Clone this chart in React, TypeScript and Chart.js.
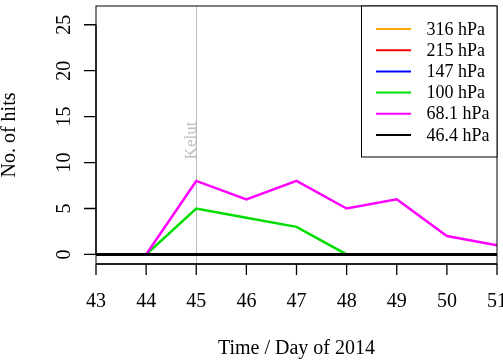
import React, { useEffect, useRef } from "react";
import { Chart, registerables } from "chart.js";

Chart.register(...registerables);

const days = [43, 44, 45, 46, 47, 48, 49, 50, 51];
const hits316 = [0, 0, 0, 0, 0, 0, 0, 0, 0];
const hits215 = [0, 0, 0, 0, 0, 0, 0, 0, 0];
const hits147 = [0, 0, 0, 0, 0, 0, 0, 0, 0];
const hits100 = [0, 0, 5, 4, 3, 0, 0, 0, 0];
const hits681 = [0, 0, 8, 6, 8, 5, 6, 2, 1];
const hits464 = [0, 0, 0, 0, 0, 0, 0, 0, 0];
const seriesLabels = ["316 hPa", "215 hPa", "147 hPa", "100 hPa", "68.1 hPa", "46.4 hPa"];
const seriesColors = ["#FFA500", "#FF0000", "#0000FF", "#00DD00", "#FF00FF", "#000000"];
const xTicks = [43, 44, 45, 46, 47, 48, 49, 50, 51];
const yTicks = [0, 5, 10, 15, 20, 25];
const eventDay = 45;
const eventLabel = "Kelut";
const eventLabelY = 12.4;
const xTitle = "Time / Day of 2014";
const yTitle = "No. of hits";

const FONT = "'Liberation Serif', 'Times New Roman', serif";

const rPlugin = {
  id: "rstyle",
  beforeDatasetsDraw(chart: any) {
    const ctx = chart.ctx;
    const xs = chart.scales.x;
    const ys = chart.scales.y;
    const a = chart.chartArea;
    const px = Math.round(xs.getPixelForValue(eventDay)) + 0.5;
    ctx.save();
    ctx.strokeStyle = "#BEBEBE";
    ctx.lineWidth = 1;
    ctx.beginPath();
    ctx.moveTo(px, a.top);
    ctx.lineTo(px, a.bottom);
    ctx.stroke();
    ctx.translate(px - 1, ys.getPixelForValue(eventLabelY));
    ctx.rotate(-Math.PI / 2);
    ctx.fillStyle = "#BEBEBE";
    ctx.font = `17px ${FONT}`;
    ctx.textAlign = "center";
    ctx.textBaseline = "alphabetic";
    ctx.fillText(eventLabel, 0, 0);
    ctx.restore();
  },
  afterDraw(chart: any) {
    const ctx = chart.ctx;
    const xs = chart.scales.x;
    const ys = chart.scales.y;
    const a = chart.chartArea;
    ctx.save();
    // box
    ctx.strokeStyle = "#000";
    ctx.lineWidth = 1;
    ctx.strokeRect(a.left, a.top, a.right - a.left, a.bottom - a.top);
    // x axis
    ctx.lineWidth = 1.3;
    ctx.beginPath();
    const x0 = xs.getPixelForValue(xTicks[0]);
    const x1 = xs.getPixelForValue(xTicks[xTicks.length - 1]);
    ctx.moveTo(x0, a.bottom);
    ctx.lineTo(x1, a.bottom);
    for (const t of xTicks) {
      const p = xs.getPixelForValue(t);
      ctx.moveTo(p, a.bottom);
      ctx.lineTo(p, a.bottom + 11);
    }
    ctx.stroke();
    ctx.fillStyle = "#000";
    ctx.font = `20px ${FONT}`;
    ctx.textAlign = "center";
    ctx.textBaseline = "alphabetic";
    for (const t of xTicks) {
      ctx.fillText(String(t), xs.getPixelForValue(t), 307);
    }
    ctx.fillText(xTitle, (a.left + a.right) / 2, 354);
    // y axis
    ctx.beginPath();
    ctx.moveTo(a.left, ys.getPixelForValue(yTicks[0]));
    ctx.lineTo(a.left, ys.getPixelForValue(yTicks[yTicks.length - 1]));
    for (const t of yTicks) {
      const p = ys.getPixelForValue(t);
      ctx.moveTo(a.left, p);
      ctx.lineTo(a.left - 12, p);
    }
    ctx.stroke();
    for (const t of yTicks) {
      ctx.save();
      ctx.translate(70, ys.getPixelForValue(t));
      ctx.rotate(-Math.PI / 2);
      ctx.fillText(String(t), 0, 0);
      ctx.restore();
    }
    ctx.save();
    ctx.translate(15, (a.top + a.bottom) / 2);
    ctx.rotate(-Math.PI / 2);
    ctx.fillText(yTitle, 0, 0);
    ctx.restore();
    // legend
    const lx = 361, ly = a.top, lw = a.right - 361, lh = 151;
    ctx.fillStyle = "#fff";
    ctx.fillRect(lx, ly, lw, lh);
    ctx.strokeStyle = "#000";
    ctx.lineWidth = 1;
    ctx.strokeRect(lx + 0.5, ly, lw - 0.5, lh);
    ctx.font = `18px ${FONT}`;
    ctx.textAlign = "left";
    ctx.textBaseline = "alphabetic";
    seriesLabels.forEach((lab, i) => {
      const yy = 29 + i * 21.2;
      ctx.strokeStyle = seriesColors[i];
      ctx.lineWidth = 2;
      ctx.beginPath();
      ctx.moveTo(376, yy);
      ctx.lineTo(411, yy);
      ctx.stroke();
      ctx.fillStyle = "#000";
      ctx.fillText(lab, 426.5, yy + 5.5);
    });
    ctx.restore();
  },
};

export default function App() {
  const ref = useRef<HTMLCanvasElement>(null);
  useEffect(() => {
    if (!ref.current) return;
    const series = [hits316, hits215, hits147, hits100, hits681, hits464];
    const chart = new Chart(ref.current, {
      type: "line",
      data: {
        datasets: series.map((s, i) => ({
          label: seriesLabels[i],
          data: days.map((d, j) => ({ x: d, y: s[j] })),
          borderColor: seriesColors[i],
          backgroundColor: seriesColors[i],
          borderWidth: i === 5 ? 3 : 2.5,
          pointRadius: 0,
          tension: 0,
          order: 5 - i,
        })),
      },
      options: {
        responsive: false,
        animation: false,
        events: [],
        layout: { padding: { left: 96, right: 6, top: 6, bottom: 96 } },
        scales: {
          x: { type: "linear", min: 43, max: 51, display: false },
          y: { type: "linear", min: -1.04, max: 27.04, display: false },
        },
        plugins: { legend: { display: false }, tooltip: { enabled: false } },
      },
      plugins: [rPlugin],
    });
    return () => chart.destroy();
  }, []);
  return (
    <div style={{ position: "fixed", left: 0, top: 0, width: 503, height: 360, background: "#fff" }}>
      <canvas ref={ref} width={503} height={360} style={{ display: "block" }} />
    </div>
  );
}
